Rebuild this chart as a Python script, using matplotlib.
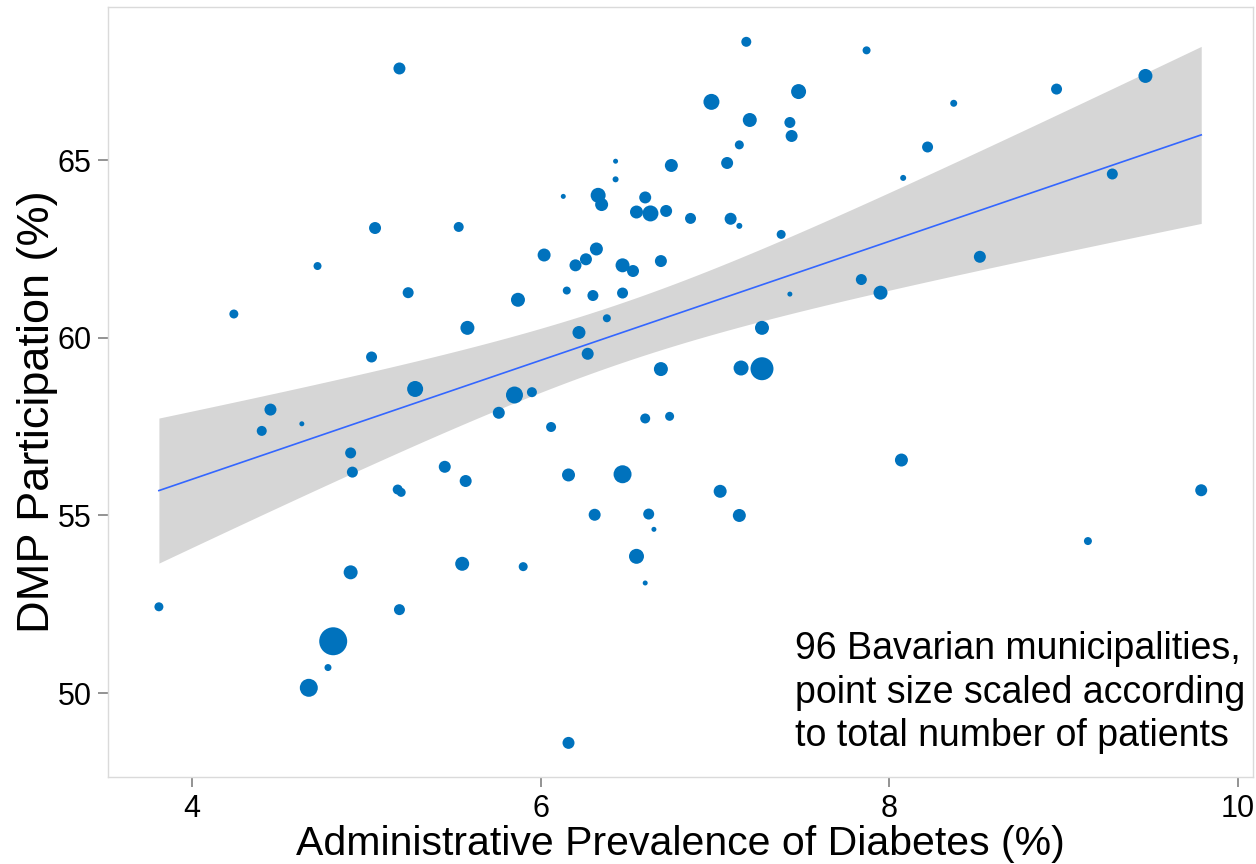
import numpy as np
import matplotlib
matplotlib.use('Agg')
import matplotlib.pyplot as plt

# administrative prevalence of diabetes (%), one entry per municipality
prevalence = [5.19, 5.05, 5.53, 4.72, 5.24, 5.87, 7.18, 7.87, 6.98, 7.48,
              7.20, 7.43, 7.44, 7.14, 6.75, 7.07, 6.43, 6.43, 8.08, 6.13,
              6.33, 6.35, 6.60, 6.55, 6.63, 6.72, 6.86, 7.09, 7.14, 7.38,
              6.02, 6.20, 6.26, 6.32, 6.47, 6.53, 6.69, 6.15, 6.30, 6.47,
              7.43, 7.84, 7.95, 9.47, 8.96, 8.37, 8.22, 9.28, 8.52, 4.24,
              5.58, 5.03, 5.28, 5.85, 5.76, 4.45, 4.40, 4.63, 4.91, 4.92,
              5.45, 5.57, 5.18, 5.20, 4.91, 5.55, 6.38, 6.22, 6.27, 5.95,
              6.06, 6.69, 7.15, 7.27, 7.27, 6.60, 6.74, 8.07, 6.16, 6.47,
              7.03, 6.31, 6.62, 7.14, 6.65, 6.55, 5.90, 9.79, 9.14, 3.81,
              5.19, 4.81, 4.78, 4.67, 6.60, 6.16]

# DMP participation (%)
participation = [67.58, 63.09, 63.12, 62.02, 61.27, 61.07, 68.33, 68.09, 66.64, 66.93,
                 66.13, 66.06, 65.68, 65.43, 64.85, 64.92, 64.97, 64.46, 64.50, 63.98,
                 64.01, 63.75, 63.95, 63.54, 63.50, 63.57, 63.36, 63.35, 63.15, 62.91,
                 62.33, 62.04, 62.21, 62.50, 62.04, 61.88, 62.16, 61.33, 61.19, 61.26,
                 61.23, 61.64, 61.27, 67.37, 67.00, 66.60, 65.37, 64.61, 62.28, 60.67,
                 60.28, 59.46, 58.56, 58.39, 57.89, 57.98, 57.38, 57.58, 56.76, 56.22,
                 56.37, 55.97, 55.73, 55.65, 53.40, 53.64, 60.55, 60.15, 59.55, 58.47,
                 57.49, 59.12, 59.15, 59.13, 60.28, 57.73, 57.79, 56.56, 56.14, 56.16,
                 55.68, 55.02, 55.04, 55.00, 54.61, 53.85, 53.56, 55.71, 54.28, 52.43,
                 52.35, 51.46, 50.72, 50.15, 53.10, 48.60]

# total number of patients (drives point area)
patients = [3600, 3600, 2500, 1600, 3025, 4900, 2500, 1600, 6400, 5625,
            4900, 3025, 3600, 2025, 4225, 3600, 625, 900, 900, 625,
            5625, 4225, 3600, 4225, 6400, 3600, 3025, 3600, 900, 2025,
            4225, 3600, 3600, 4225, 4900, 3600, 3600, 1600, 3025, 3025,
            625, 3025, 4900, 4900, 3025, 1225, 3025, 3025, 3600, 2025,
            4900, 3025, 6400, 7225, 3600, 3600, 2500, 625, 3025, 3025,
            3600, 3600, 2500, 2025, 4900, 4900, 1600, 4225, 3600, 2500,
            2500, 4900, 5625, 13225, 4900, 2500, 2025, 4225, 4225, 8100,
            4225, 3600, 3025, 4225, 625, 5625, 2025, 3600, 1600, 2025,
            3025, 19600, 1225, 8100, 625, 3600]

x_ticks = [4, 6, 8, 10]
y_ticks = [50, 55, 60, 65]
note = "96 Bavarian municipalities,\npoint size scaled according\nto total number of patients"

POINT_COLOR = '#0072BD'
LINE_COLOR = '#3366FF'
BAND_COLOR = '#D6D6D6'
T_CRIT = 1.9855  # t(0.975, df=94)

x = np.array(prevalence)
y = np.array(participation)
n = len(x)

# linear fit with 95% confidence band
slope, intercept = np.polyfit(x, y, 1)
xs = np.linspace(x.min(), x.max(), 100)
fit = intercept + slope * xs
resid = y - (intercept + slope * x)
s_err = np.sqrt(np.sum(resid ** 2) / (n - 2))
sxx = np.sum((x - x.mean()) ** 2)
se = s_err * np.sqrt(1.0 / n + (xs - x.mean()) ** 2 / sxx)

plt.rcParams['font.family'] = ['Liberation Sans', 'DejaVu Sans']

fig = plt.figure(figsize=(12.56, 8.64), dpi=100)
ax = fig.add_axes([0.086, 0.1007, 0.9116, 0.8912])

ax.fill_between(xs, fit - T_CRIT * se, fit + T_CRIT * se, color=BAND_COLOR, lw=0, zorder=1)
ax.scatter(x, y, s=np.array(patients) * 0.0207, color=POINT_COLOR, lw=0, zorder=2)
ax.plot(xs, fit, color=LINE_COLOR, lw=1.2, zorder=3)

ax.set_xlim(3.518, 10.087)
ax.set_ylim(47.64, 69.31)
ax.set_xticks(x_ticks)
ax.set_yticks(y_ticks)

for sp in ax.spines.values():
    sp.set_color('#DADADA')
    sp.set_linewidth(1.0)
ax.tick_params(axis='both', direction='out', length=7, width=1.2, color='#808080',
               labelsize=22, labelcolor='black')
ax.tick_params(axis='x', pad=5)
ax.tick_params(axis='y', pad=5)

ax.set_xlabel('Administrative Prevalence of Diabetes (%)', fontsize=29.5)
ax.xaxis.label.set_va('baseline')
ax.xaxis.set_label_coords(0.5, -0.1013)
ax.set_ylabel('DMP Participation (%)', fontsize=32.5)
ax.yaxis.label.set_va('baseline')
ax.yaxis.set_label_coords(-0.0515, 0.474)

ax.text(0.600, 0.190, note, transform=ax.transAxes, fontsize=27,
        ha='left', va='top', linespacing=1.28)

fig.savefig('out.png', dpi=100)
